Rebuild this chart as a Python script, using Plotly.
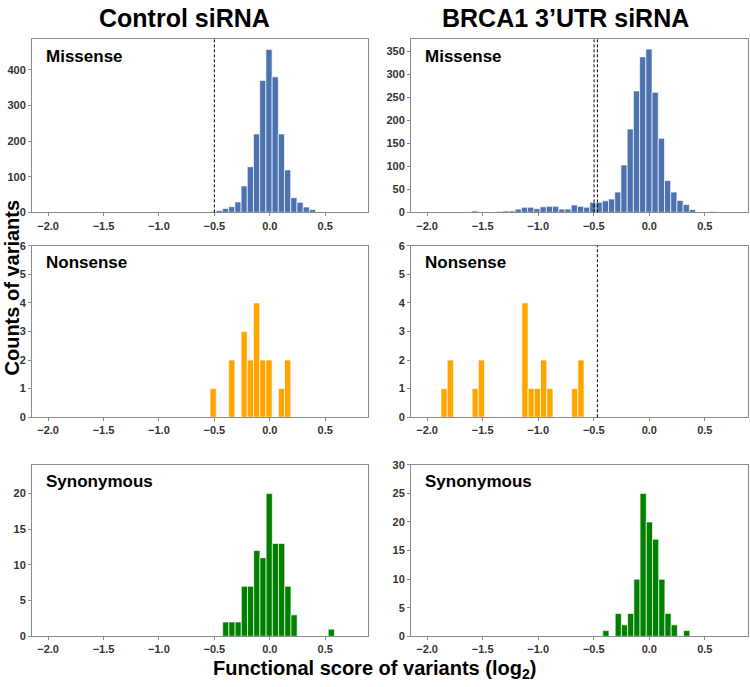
import plotly.graph_objects as go

# ---------------- data (histogram bins) ----------------
bin_width = 0.056

ctrl_missense_start = -0.595
ctrl_missense_counts = [1, 2, 5, 11, 16, 29, 74, 128, 220, 370, 457, 380, 220, 119, 41, 28, 15, 8]

brca_missense_start = -2.047
brca_missense_counts = [1, 0, 0, 0, 1, 0, 0, 0, 3, 0, 0, 1, 2, 3, 3, 7, 11, 11, 8, 12,
                        13, 13, 7, 7, 16, 13, 11, 22, 22, 25, 29, 44, 103, 181, 264, 338,
                        355, 261, 161, 69, 44, 26, 17, 6, 1, 0, 2]

ctrl_nonsense_start = -0.539
ctrl_nonsense_counts = [1, 0, 0, 2, 0, 3, 2, 4, 2, 2, 0, 1, 2]

brca_nonsense_start = -1.875
brca_nonsense_counts = [1, 2, 0, 0, 0, 1, 2, 0, 0, 0, 0, 0, 0, 4, 1, 1, 2, 1, 0, 0, 0, 1, 2]

ctrl_synonymous_start = -0.425
ctrl_synonymous_counts = [2, 2, 2, 7, 7, 12, 11, 20, 13, 13, 7, 3, 0, 0, 0, 0, 0, 1]

brca_synonymous_start = -0.419
brca_synonymous_counts = [1, 0, 4, 2, 4, 10, 25, 20, 17, 10, 4, 2, 0, 1]

ctrl_missense_thresholds = [-0.5]
brca_missense_thresholds = [-0.497, -0.467]
brca_nonsense_thresholds = [-0.467]

column_titles = ["Control siRNA", "BRCA1 3\u2019UTR siRNA"]
row_labels = ["Missense", "Nonsense", "Synonymous"]
x_tick_values = [-2.0, -1.5, -1.0, -0.5, 0.0, 0.5]
y_ranges = [[0, 485], [0, 376], [0, 6], [0, 6], [0, 24], [0, 30]]
y_dticks = [100, 50, 1, 1, 5, 5]

# ---------------- styling ----------------
FONT = "Liberation Sans, Arial, Helvetica, sans-serif"
colors = ["#4c72b0", "#ffa500", "#008000"]
W, H = 750, 687
col_px = [(32, 368), (411, 747.7)]
row_px = [(34, 210), (244, 418.5), (467, 641.5)]
x_range = [-2.145, 0.886]

panels = [
    (ctrl_missense_start, ctrl_missense_counts, ctrl_missense_thresholds),
    (brca_missense_start, brca_missense_counts, brca_missense_thresholds),
    (ctrl_nonsense_start, ctrl_nonsense_counts, []),
    (brca_nonsense_start, brca_nonsense_counts, brca_nonsense_thresholds),
    (ctrl_synonymous_start, ctrl_synonymous_counts, []),
    (brca_synonymous_start, brca_synonymous_counts, []),
]

fig = go.Figure()
layout = dict(
    width=W, height=H, margin=dict(l=0, r=0, t=0, b=0),
    paper_bgcolor="white", plot_bgcolor="white", showlegend=False,
    font=dict(family=FONT), shapes=[], annotations=[],
)

for i, (start, counts, thr) in enumerate(panels):
    r, c = divmod(i, 2)
    n = i + 1
    xa = "x" if n == 1 else f"x{n}"
    ya = "y" if n == 1 else f"y{n}"
    centers = [start + (k + 0.5) * bin_width for k in range(len(counts))]
    fig.add_trace(go.Bar(
        x=centers, y=counts, width=bin_width, xaxis=xa, yaxis=ya,
        marker=dict(color=colors[r], line=dict(color="rgba(255,255,255,0.85)", width=0.8)),
        hoverinfo="x+y",
    ))
    x0, x1 = col_px[c]
    y0, y1 = row_px[r]
    axcommon = dict(
        showline=True, linecolor="#8a8a8a", linewidth=1, mirror=True,
        showgrid=False, zeroline=False, ticks="outside", ticklen=3,
        tickcolor="#8a8a8a", tickwidth=1,
        tickfont=dict(family=FONT, size=11, color="#333333", weight="bold"),
    )
    layout[f"xaxis{'' if n == 1 else n}"] = dict(
        axcommon, domain=[x0 / W, x1 / W], anchor=ya, range=x_range,
        tickmode="array", tickvals=x_tick_values, tickformat=".1f",
    )
    layout[f"yaxis{'' if n == 1 else n}"] = dict(
        axcommon, domain=[1 - y1 / H, 1 - y0 / H], anchor=xa, range=y_ranges[i],
        tick0=0, dtick=y_dticks[i],
    )
    for t in thr:
        layout["shapes"].append(dict(
            type="line", xref=xa, yref=f"{ya} domain", x0=t, x1=t, y0=0, y1=1,
            line=dict(color="black", width=1, dash="3px,2px"), layer="above",
        ))
    layout["annotations"].append(dict(
        xref=f"{xa} domain", yref=f"{ya} domain",
        x=12 / (x1 - x0), y=1 - 17 / (y1 - y0), xanchor="left", yanchor="middle",
        text=row_labels[r], showarrow=False,
        font=dict(family=FONT, size=17, color="black", weight="bold"),
    ))

title_x = [184.3, 565.8]
for c in range(2):
    layout["annotations"].append(dict(
        xref="paper", yref="paper", x=title_x[c] / W, y=1 - 12 / H,
        xanchor="center", yanchor="middle", text=column_titles[c], showarrow=False,
        font=dict(family=FONT, size=25, color="black", weight="bold"),
    ))

layout["annotations"].append(dict(
    xref="paper", yref="paper", x=11.5 / W, y=1 - 287 / H, textangle=-90,
    xanchor="center", yanchor="middle", text="Counts of variants", showarrow=False,
    font=dict(family=FONT, size=20, color="black", weight="bold"),
))
layout["annotations"].append(dict(
    xref="paper", yref="paper", x=374.5 / W, y=1 - 675 / H,
    xanchor="center", yanchor="middle",
    text="Functional score of variants (log<sub>2</sub>)", showarrow=False,
    font=dict(family=FONT, size=20, color="black", weight="bold"),
))

fig.update_layout(**layout)
fig.write_html("out.html")
